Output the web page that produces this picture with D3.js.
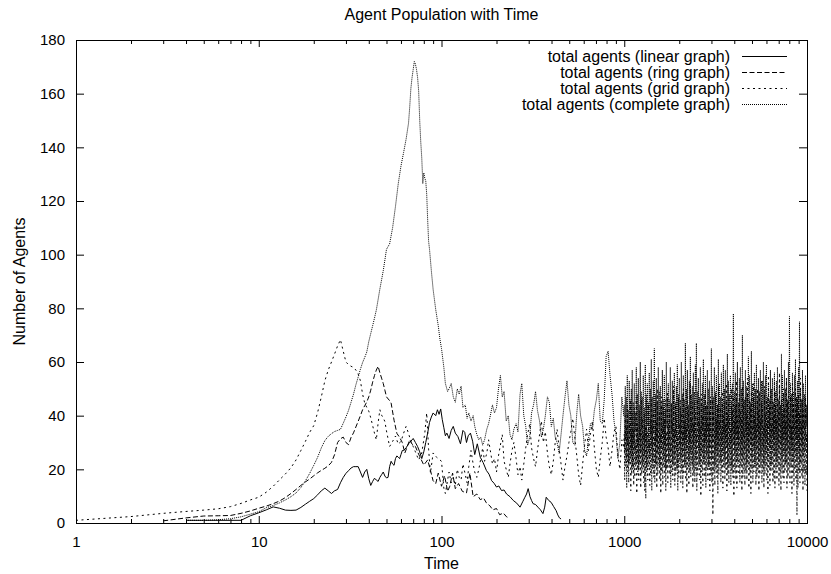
<!DOCTYPE html>
<html><head><meta charset="utf-8">
<script src="https://cdn.jsdelivr.net/npm/d3@7"></script>
<style>body{margin:0;background:#fff}svg text{font-family:"Liberation Sans",Arial,Helvetica,sans-serif;fill:#000}</style>
</head><body>
<svg id="c" width="831" height="574"></svg>
<script>
const title = "Agent Population with Time";
const xLabel = "Time";
const yLabel = "Number of Agents";
const xTicks = [1, 10, 100, 1000, 10000];
const yTicks = [0, 20, 40, 60, 80, 100, 120, 140, 160, 180];
const seriesNames = ["total agents (linear graph)", "total agents (ring graph)", "total agents (grid graph)", "total agents (complete graph)"];

// linear graph
const linearT = [4,5,6,7,8,9,10,11,12,13,14,15,16,17,18,19,20,21,22,23,24,25,26,27,28,29,30,31,32,33,34,35,36,37,38,39,40,41,42,43,44,45,46,47,48,49,50,51,52,53,54,55,56,57,58,59,60,61,62,64,66,68,70,72,74,76,78,80,82,84,86,88,90,93,95,97,99,101,103,105,107,110,113,116,119,123,127,131,134,137,140,144,148,152,157,163,169,176,182,188,194,200,206,213,220,227,237,247,258,269,278,286,292,298,305,311,317,327,337,348,359,367,374,386,398,411,424,433,442,451];
const linearV = [1,1,1,1,1,2.7,3.8,4.9,6,5.5,4.8,4.7,4.8,5.8,7,8.1,9.1,10.5,12,13,12,11,12,12.5,15,17,18.5,19.5,20.5,21,21,21,19,17,19,20,16.5,14,15.5,16.7,16,15.5,17,18,19,17.5,16.8,17,21,23,22,21.5,24,25,24.5,24,25.5,27,27,28,29.5,30.5,31.5,30,28.5,26.5,24,26.5,30,33.5,37.5,39.5,41,40,42.2,40.5,42.5,38.5,35.5,32.5,33.5,31.5,34.5,36,33.5,32.2,29.5,34.5,33.8,30,32.5,33.5,30.5,25.5,29.5,24.5,22.5,19.6,18.2,15.8,14.8,13.4,13.8,12.1,12.3,10.8,9.8,8.4,7.4,5.9,7.9,9.6,10.8,12.8,9.8,8.4,7.2,6.9,5.9,4.9,3.5,5.9,9.6,8.4,7.7,6.1,4.6,3,1.9,1.5];

// ring graph
const ringT = [3,4,5,6,7,8,9,10,11,12,13,14,15,16,17,18,19,20,21,22,23,24,25,26,27,28,29,30,31,32,33,34,35,36,37,38,39,40,41,42,43,44,45,46,47,48,49,50,52,53,55,57,59,61,63,65,67,69,72,74,76,80,84,87,90,93,96,100,104,108,111,115,119,124,130,137,143,149,156,163,170,176,184,191,200,208,218,227,235];
const ringV = [0.8,1.9,2.6,2.7,2.8,3.6,4.5,5.5,6.3,7.2,8.2,9.5,11,12.5,14,15.3,16.4,17.6,18.7,19.6,20.4,21.3,22.6,25.5,30,31.4,32,30,29.2,31.9,33.6,35.8,37.9,40,42.2,43.7,45.1,47,49.5,52.5,55,57,58.4,56,54,52,49.5,47,45.6,44.7,38.3,33.4,31.9,30,26.1,28.5,31,29.4,28.5,26.5,24.8,21.6,23.5,19.6,15.7,14.7,18.6,13.7,17.6,11.8,13.7,18.6,12.8,14.7,11.8,11.2,18.6,9.8,10.8,8.7,9.3,7.5,6.4,4.9,5.4,3.1,3.7,2.3,1.8];

// grid graph, early part
const gridT = [1,2,3,4,5,6,7,8,9,10,11,12,13,14,15,16,17,18,19,20,21,22,23,24,25,26,27,28,29,30,31,32,33,34,35,36,37,38,39,40,41,42,43,44,45,46,47,48,49,50,52,54,56,58,60,62,64,66,68,70,72,75,78,81,83,85,87,90,94,98];
const gridV = [1,2.4,3.6,4.3,4.8,5.3,6.1,7.3,8.6,9.6,11.5,13.7,16.1,18.3,20.6,23.5,27,30.4,33.8,36.3,41.2,47,53,57,60,63,66,68.3,64,60,59,58.4,58,57,55.5,53,48,44.7,43.1,41.7,39.2,36.3,33.4,31,37.3,42.2,40.2,39.2,37.8,34.3,28.5,30.4,32.4,29.4,30.4,33.4,36,33.4,30.4,28.5,26.5,23.5,26.1,33.4,41,27.5,18.6,26.1,24.5,23.5];

// complete graph, early part
const completeT = [4,5,6,7,8,9,10,11,12,13,14,15,16,17,18,19,20,21,22,23,24,25,26,27,28,29,30,31,32,33,34,35,36,37,38,39,40,41,42,43,44,45,46,47,48,49,50,52,54,56,58,60,62,64,66,67,68,69,70,71,72,73,74,75,76,77,78,79,80,81,82,83,84,85,86,88,90,93,96,98];
const completeV = [1,1,1.2,1.6,2.3,3.3,4.2,5.7,6.5,7.5,8.6,9.8,11.2,13.2,15.7,18.5,21.5,24.5,28,30.7,32.3,33.3,34.1,34.5,34.9,37.2,39.5,42,45,48,51.5,54.4,57.3,59.8,61.7,63.7,67.6,70.6,73.5,76.4,79.4,83.3,87.2,90.6,94,98,102,104,110,118,126.5,133,138,143,149,155,162,166,169,172,171,169,166,161,150,142,136,126.5,130.5,128.5,127.5,122.5,113,105,102,94,87,79.5,73.5,68.6];

// shared time samples for the noisy middle part (100 - 1000)
const midT = [100,103,105,108,110,113,116,119,122,125,128,131,135,138,141,145,149,152,156,160,164,168,172,177,181,185,190,195,200,205,210,215,220,226,232,237,243,249,256,262,269,275,282,289,296,304,311,319,327,335,344,352,361,370,380,389,399,409,419,429,440,451,462,474,486,498,510,523,536,550,563,577,592,607,622,637,653,670,686,704,721,739,758,777,796,816,836,857,879,901,923,946,970,994];
const completeMidV = [65,58,52,49,50,52,47,45,50,48, 51,43,44,39,41,38,40,36,33,31, 32,29,31,35,37,40,44,41,43,50, 55,47,49,38,40,33,31,35,37,34, 48,52,40,36,29,32,41,44,49,42, 38,32,35,40,47,45,36,39,32,30, 26,33,40,47,53,44,40,30,29,41, 48,40,36,27,25,31,37,35,42,46, 52,38,37,46,62,64,55,48,38,33, 24,30,47,40];
const gridMidV = [23,13,11,16,19,15,17,14,20,17, 16,22,18,15,21,27,22,19,17,20, 24,28,23,26,31,27,22,24,19,25, 29,33,23,20,17,22,27,30,24,18, 21,16,22,28,33,37,28,24,21,27, 33,38,30,34,26,21,18,23,30,35, 28,22,16,21,25,30,34,39,32,25, 18,14,22,29,35,27,33,38,28,20, 17,24,30,39,32,28,21,27,34,36, 25,20,31,28];

// shared time samples for the dense tail (1000 - 10000)
const tailT = [
1000,1006,1013,1019,1026,1032,1039,1045,1052,1058,1065,1072,1079,1086,1093,1099,1106,1113,1120,1127,
1135,1142,1149,1156,1164,1171,1179,1186,1194,1201,1208,1216,1224,1231,1239,1247,1255,1263,1271,1279,
1287,1295,1304,1312,1320,1328,1337,1345,1354,1362,1371,1380,1389,1397,1406,1415,1424,1433,1442,1451,
1461,1470,1479,1488,1498,1507,1517,1526,1536,1546,1556,1565,1575,1585,1595,1605,1616,1626,1636,1646,
1657,1667,1678,1688,1699,1710,1721,1732,1743,1754,1765,1776,1787,1798,1810,1821,1833,1844,1856,1868,
1880,1892,1904,1916,1928,1940,1952,1964,1977,1989,2002,2015,2028,2040,2053,2066,2079,2092,2106,2119,
2132,2146,2160,2173,2187,2201,2215,2229,2243,2257,2271,2285,2300,2314,2329,2344,2359,2374,2389,2404,
2419,2434,2450,2465,2481,2496,2512,2528,2544,2560,2577,2593,2609,2625,2642,2659,2676,2693,2710,2727,
2744,2761,2779,2796,2814,2832,2850,2868,2886,2904,2923,2941,2960,2979,2998,3017,3036,3055,3074,3093,
3113,3133,3153,3173,3193,3213,3233,3253,3274,3295,3316,3337,3358,3379,3400,3421,3443,3465,3487,3509,
3531,3553,3576,3598,3621,3644,3667,3690,3714,3737,3761,3785,3809,3833,3857,3881,3906,3930,3955,3980,
4006,4031,4056,4082,4108,4134,4160,4186,4213,4239,4266,4293,4320,4347,4375,4403,4431,4459,4487,4515,
4544,4573,4602,4631,4660,4689,4719,4749,4779,4809,4840,4870,4901,4932,4963,4994,5026,5058,5090,5122,
5155,5187,5220,5253,5287,5320,5354,5388,5422,5456,5490,5525,5560,5595,5631,5666,5702,5738,5774,5811,
5848,5885,5922,5959,5997,6035,6073,6112,6151,6190,6229,6268,6308,6348,6388,6428,6469,6510,6551,6592,
6634,6676,6719,6761,6804,6847,6890,6934,6978,7022,7066,7111,7156,7201,7247,7293,7339,7385,7432,7479,
7526,7574,7622,7670,7719,7768,7817,7866,7916,7966,8017,8067,8118,8169,8221,8273,8326,8379,8432,8485,
8539,8593,8647,8702,8757,8812,8868,8924,8981,9038,9095,9152,9210,9268,9327,9386,9446,9506,9566,9626,
9687,9748,9810,9872,9935,9967,10000];
const completeTailV = [
44,26,51,31,47,24,55,29,42,22,53,33,46,25,50,28,57,21,45,30,
52,27,41,34,58,23,48,29,54,20,44,32,60,26,49,35,47,22,55,31,
43,25,59,30,46,21,52,36,45,27,56,24,50,33,61,28,47,23,53,34,
65,29,48,22,54,31,45,26,58,35,49,21,51,30,44,27,57,33,46,24,
55,29,42,20,60,36,47,28,52,23,46,31,58,26,44,34,53,22,49,30,
56,25,45,32,51,27,59,21,47,35,54,29,43,24,60,33,48,26,55,30,
46,22,67,31,50,27,57,35,44,23,53,30,62,26,48,34,51,21,56,29,
45,33,59,24,67,30,49,36,54,27,47,22,58,32,45,26,52,35,61,23,
48,29,55,31,44,25,57,34,50,21,53,28,46,33,65,24,51,30,47,36,
58,22,49,27,55,32,44,25,61,29,52,35,47,23,56,30,45,26,59,33,
50,24,57,31,46,28,63,22,53,35,48,27,55,30,44,21,52,34,78,29,
49,26,56,33,47,23,60,31,45,28,54,36,58,25,50,30,70,24,53,32,
46,27,57,34,51,22,48,30,62,26,55,33,45,29,64,24,52,35,47,28,
56,21,50,31,59,27,46,34,54,23,49,30,57,25,45,36,53,28,60,22,
48,32,55,26,59,30,47,24,52,35,46,28,57,21,50,33,54,27,45,31,
56,25,49,34,53,23,58,30,46,27,51,36,44,29,63,24,55,31,48,26,
57,33,50,22,54,30,46,27,60,35,77,25,52,31,48,28,56,23,49,34,
55,26,61,32,47,24,53,30,58,27,75,22,50,33,46,29,57,25,52,35,
48,27,55,31,44,36,41];
const gridTailV = [
33,16,40,21,36,13,44,19,31,15,38,22,45,12,34,18,41,20,35,14,
43,17,30,21,47,11,37,19,32,16,42,22,35,13,46,18,39,20,33,15,
41,12,36,9,48,19,34,16,44,21,31,14,39,18,46,12,37,20,42,17,
32,15,45,21,38,13,50,18,35,22,41,16,33,11,47,19,36,14,43,21,
39,17,46,12,34,20,49,15,37,22,42,18,31,13,45,19,38,16,51,21,
35,14,44,18,40,20,33,12,48,17,37,22,46,15,41,19,34,13,50,18,
38,21,43,16,36,11,47,20,42,14,35,19,52,17,39,22,45,13,37,18,
49,15,41,20,34,12,46,18,38,21,43,16,36,10,48,19,40,14,44,22,
35,17,50,13,39,20,45,16,37,21,42,12,47,18,34,15,46,3,41,19,
36,14,48,20,39,17,44,11,51,18,38,22,43,15,35,19,49,13,40,21,
45,16,37,20,52,12,41,18,46,15,39,21,35,14,50,19,42,17,47,10,
38,20,44,16,53,13,40,22,36,18,48,15,42,21,39,12,51,17,45,20,
34,14,47,19,41,16,54,21,38,13,46,18,43,11,49,20,36,15,52,19,
40,22,45,14,37,17,50,20,42,12,48,18,39,21,53,15,44,19,36,13,
51,18,41,21,46,16,38,11,55,20,43,14,49,19,37,22,45,15,40,17,
52,13,44,20,39,16,48,21,42,14,56,18,37,12,46,20,41,17,50,15,
43,19,38,22,54,13,45,17,49,20,40,15,47,21,36,11,52,18,44,14,
39,20,50,16,43,3,46,13,48,19,41,15,54,22,37,17,46,12,42,20,
38,14,47,18,33,21,12];

const pairs = (T, V) => T.slice(0, Math.min(T.length, V.length)).map((t, i) => ({t, v: V[i]}));
const series = [
  {name: seriesNames[0], dash: null, data: pairs(linearT, linearV)},
  {name: seriesNames[1], dash: "5,2.5", data: pairs(ringT, ringV)},
  {name: seriesNames[2], dash: "2,3.5", data: pairs(gridT, gridV).concat(pairs(midT, gridMidV), pairs(tailT, gridTailV))},
  {name: seriesNames[3], dash: "1,1", data: pairs(completeT, completeV).concat(pairs(midT, completeMidV), pairs(tailT, completeTailV))}
];

const FONT = "Liberation Sans, Arial, Helvetica, sans-serif";
const svg = d3.select("#c");
const M = {l: 76, r: 807, t: 40, b: 523};
const x = d3.scaleLog().domain([1, 10000]).range([M.l, M.r]);
const y = d3.scaleLinear().domain([0, 180]).range([M.b, M.t]);
const minorX = x.ticks().filter(v => !xTicks.includes(v));

function styleAxis(g, fs) {
  g.select(".domain").remove();
  g.attr("font-family", FONT).attr("font-size", fs);
  g.selectAll("line").attr("stroke", "#000").attr("stroke-width", 1);
  g.selectAll("text").attr("fill", "#000");
}

svg.append("rect").attr("width", 831).attr("height", 574).attr("fill", "#fff");

svg.append("g").attr("transform", `translate(0,${M.b})`)
  .call(d3.axisBottom(x).tickValues(xTicks).tickFormat(d3.format("d")).tickSizeInner(-7).tickSizeOuter(0).tickPadding(13))
  .call(g => styleAxis(g, 15));
svg.append("g").attr("transform", `translate(0,${M.b})`)
  .call(d3.axisBottom(x).tickValues(minorX).tickFormat("").tickSizeInner(-4).tickSizeOuter(0))
  .call(g => styleAxis(g, 15));
svg.append("g").attr("transform", `translate(0,${M.t})`)
  .call(d3.axisTop(x).tickValues(xTicks).tickFormat("").tickSizeInner(-7).tickSizeOuter(0))
  .call(g => styleAxis(g, 15));
svg.append("g").attr("transform", `translate(0,${M.t})`)
  .call(d3.axisTop(x).tickValues(minorX).tickFormat("").tickSizeInner(-4).tickSizeOuter(0))
  .call(g => styleAxis(g, 15));
svg.append("g").attr("transform", `translate(${M.l},0)`)
  .call(d3.axisLeft(y).tickValues(yTicks).tickSizeInner(-8).tickSizeOuter(0).tickPadding(11))
  .call(g => styleAxis(g, 15));
svg.append("g").attr("transform", `translate(${M.r},0)`)
  .call(d3.axisRight(y).tickValues(yTicks).tickFormat("").tickSizeInner(-8).tickSizeOuter(0))
  .call(g => styleAxis(g, 15));

const line = d3.line().defined(d => d.v != null).x(d => x(d.t)).y(d => y(d.v));
svg.append("g").selectAll("path").data(series).join("path")
  .attr("d", d => line(d.data))
  .attr("fill", "none").attr("stroke", "#000").attr("stroke-width", 1)
  .attr("stroke-dasharray", d => d.dash);

svg.append("rect").attr("x", M.l + 0.5).attr("y", M.t + 0.5)
  .attr("width", M.r - M.l).attr("height", M.b - M.t)
  .attr("fill", "none").attr("stroke", "#000").attr("stroke-width", 1);

// legend
const leg = svg.append("g").attr("font-family", FONT).attr("font-size", 16);
series.forEach((s, i) => {
  const cy = 56 + i * 16;
  leg.append("text").attr("x", 730).attr("y", cy).attr("dy", "0.35em").attr("text-anchor", "end").text(s.name);
  leg.append("line").attr("x1", 742).attr("x2", 787).attr("y1", cy + 0.5).attr("y2", cy + 0.5)
    .attr("stroke", "#000").attr("stroke-width", 1).attr("stroke-dasharray", s.dash);
});

svg.append("text").attr("x", (M.l + M.r) / 2).attr("y", 20).attr("text-anchor", "middle")
  .attr("font-family", FONT).attr("font-size", 16).text(title);
svg.append("text").attr("x", (M.l + M.r) / 2).attr("y", 569).attr("text-anchor", "middle")
  .attr("font-family", FONT).attr("font-size", 16).text(xLabel);
svg.append("text").attr("transform", `translate(25,${(M.t + M.b) / 2}) rotate(-90)`).attr("text-anchor", "middle")
  .attr("font-family", FONT).attr("font-size", 16).text(yLabel);
</script>
</body></html>
